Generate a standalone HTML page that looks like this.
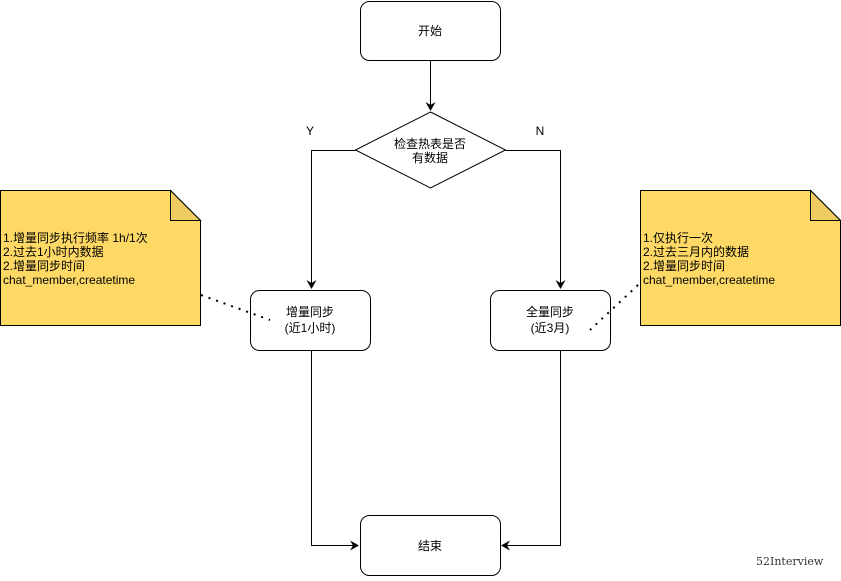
<!DOCTYPE html>
<html><head><meta charset="utf-8"><style>
body{margin:0;background:#fff;}
svg text{font-family:"Liberation Sans","Noto Sans CJK SC",sans-serif;font-size:12px;fill:#000;}
</style></head><body>
<svg width="841" height="576" viewBox="0 0 841 576" xmlns="http://www.w3.org/2000/svg">
<defs><marker id="a" markerWidth="10" markerHeight="10" refX="8" refY="5" orient="auto" markerUnits="userSpaceOnUse"><path d="M0,0 L9,5 L0,10 L3,5 Z" fill="#000"/></marker></defs>
<rect x="360.5" y="1.5" width="140" height="59" rx="9" fill="#fff" stroke="#000"/>
<text x="430" y="35" text-anchor="middle">开始</text>
<line x1="430.5" y1="61" x2="430.5" y2="110" stroke="#000" marker-end="url(#a)"/>
<path d="M430.5,112 L505.5,150 L430.5,188 L355.5,150 Z" fill="#fff" stroke="#000"/>
<text x="430" y="148" text-anchor="middle">检查热表是否</text>
<text x="430" y="162" text-anchor="middle">有数据</text>
<polyline points="355.5,150.5 311.5,150.5 311.5,288" fill="none" stroke="#000" marker-end="url(#a)"/>
<polyline points="505.5,150.5 560.5,150.5 560.5,288" fill="none" stroke="#000" marker-end="url(#a)"/>
<text x="310" y="135" text-anchor="middle">Y</text>
<text x="540" y="135" text-anchor="middle">N</text>
<rect x="250.5" y="290.5" width="120" height="60" rx="9" fill="#fff" stroke="#000"/>
<text x="310" y="316" text-anchor="middle">增量同步</text>
<text x="310" y="332" text-anchor="middle">(近1小时)</text>
<rect x="490.5" y="290.5" width="120" height="60" rx="9" fill="#fff" stroke="#000"/>
<text x="550" y="316" text-anchor="middle">全量同步</text>
<text x="550" y="332" text-anchor="middle">(近3月)</text>
<rect x="360.5" y="515.5" width="140" height="60" rx="9" fill="#fff" stroke="#000"/>
<text x="430" y="550" text-anchor="middle">结束</text>
<polyline points="311.5,351 311.5,545.5 358,545.5" fill="none" stroke="#000" marker-end="url(#a)"/>
<polyline points="560.5,351 560.5,545.5 502,545.5" fill="none" stroke="#000" marker-end="url(#a)"/>
<path d="M0.5,190.5 L170.5,190.5 L200.5,220.5 L200.5,325.5 L0.5,325.5 Z" fill="#ffd966" stroke="#000"/>
<path d="M170.5,190.5 L170.5,220.5 L200.5,220.5 Z" fill="#f1cc62" stroke="#000"/>
<text x="3" y="242">1.增量同步执行频率 1h/1次</text>
<text x="3" y="256">2.过去1小时内数据</text>
<text x="3" y="270">2.增量同步时间</text>
<text x="3" y="284">chat_member,createtime</text>
<path d="M640.5,190.5 L810.5,190.5 L840.5,220.5 L840.5,325.5 L640.5,325.5 Z" fill="#ffd966" stroke="#000"/>
<path d="M810.5,190.5 L810.5,220.5 L840.5,220.5 Z" fill="#f1cc62" stroke="#000"/>
<text x="643" y="242">1.仅执行一次</text>
<text x="643" y="256">2.过去三月内的数据</text>
<text x="643" y="270">2.增量同步时间</text>
<text x="643" y="284">chat_member,createtime</text>
<line x1="201" y1="295" x2="270" y2="320" stroke="#000" stroke-width="2" stroke-dasharray="2,6"/>
<line x1="638" y1="285" x2="590" y2="330" stroke="#000" stroke-width="2" stroke-dasharray="2,6"/>
<text x="756" y="565" style="font-family:'DejaVu Serif','Liberation Serif',serif;font-size:11px;fill:#333">52Interview</text>
</svg>
</body></html>
